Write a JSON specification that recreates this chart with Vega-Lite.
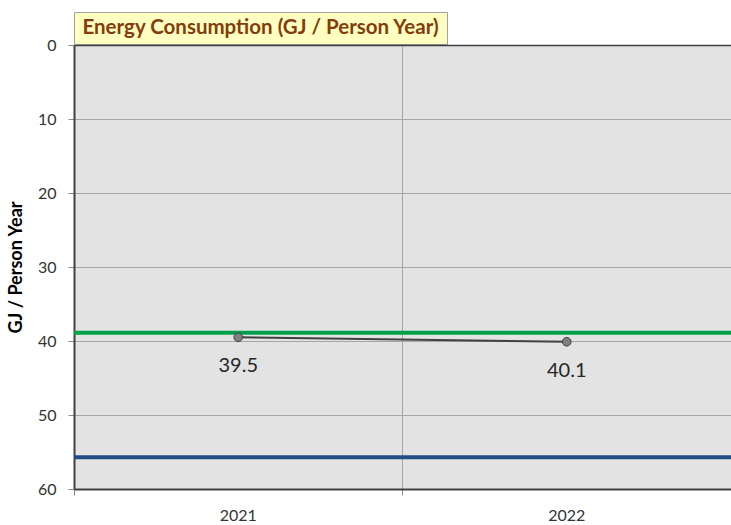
{
  "$schema": "https://vega.github.io/schema/vega-lite/v6.json",
  "autosize": {"type": "pad"},
  "padding": {"left": 7, "top": 11, "right": 0, "bottom": 5},
  "background": "#ffffff",
  "bounds": "flush",
  "spacing": 1,
  "config": {"font": "Lato", "view": {"stroke": null}},
  "datasets": {
    "series": [
      {"year": "2021", "gj": 39.5},
      {"year": "2022", "gj": 40.1}
    ],
    "targets": [
      {"target": "Green", "gj": 38.9},
      {"target": "Blue", "gj": 55.7}
    ],
    "heading": [
      {"t": "Energy Consumption (GJ / Person Year)"}
    ]
  },
  "vconcat": [
    {
      "width": 373,
      "height": 32,
      "view": {"fill": "#ffffc2", "stroke": "#a0a0a0", "strokeWidth": 1},
      "data": {"name": "heading"},
      "mark": {"type": "text", "fontWeight": "bold", "fontSize": 20.5, "color": "#843c0c"},
      "encoding": {"text": {"field": "t"}}
    },
    {
      "width": 657,
      "height": 444,
      "view": {"fill": "#e3e3e3", "stroke": null},
      "layer": [
        {
          "data": {"name": "targets"},
          "mark": {"type": "rule", "strokeWidth": 4},
          "encoding": {
            "y": {"field": "gj", "type": "quantitative"},
            "color": {"field": "target", "type": "nominal", "scale": {"domain": ["Green", "Blue"], "range": ["#00a04a", "#1f4e85"]}, "legend": null}
          }
        },
        {
          "data": {"name": "series"},
          "mark": {"type": "line", "color": "#404040", "strokeWidth": 2, "point": {"filled": true, "fill": "#7f7f7f", "stroke": "#404040", "strokeWidth": 1, "size": 75}},
          "encoding": {
            "x": {
              "field": "year", "type": "ordinal",
              "scale": {"type": "band", "paddingInner": 0, "paddingOuter": 0},
              "axis": {
                "title": null, "bandPosition": 0, "grid": true, "gridColor": "#a6a6a6",
                "labelFontSize": 16, "labelColor": "#333333", "labelPadding": 12, "labelAngle": 0,
                "tickSize": 6, "tickColor": "#888888", "domainColor": "#404040", "domainWidth": 2
              }
            },
            "y": {
              "field": "gj", "type": "quantitative",
              "scale": {"domain": [0, 60], "reverse": true, "nice": false, "zero": true},
              "axis": {
                "title": "GJ / Person Year", "titleFontSize": 18, "titleFontWeight": "bold", "titleColor": "#000000", "titlePadding": 12,
                "values": [0, 10, 20, 30, 40, 50, 60],
                "labelFontSize": 16, "labelColor": "#333333", "labelPadding": 12,
                "tickSize": 6, "tickColor": "#888888", "domainColor": "#404040", "domainWidth": 2,
                "grid": true,
                "gridColor": {"condition": {"test": "datum.value === 0", "value": "#404040"}, "value": "#a6a6a6"},
                "gridWidth": {"condition": {"test": "datum.value === 0", "value": 1.5}, "value": 1}
              }
            }
          }
        },
        {
          "data": {"name": "series"},
          "mark": {"type": "text", "dy": 29, "fontSize": 20, "color": "#262626"},
          "encoding": {
            "x": {"field": "year", "type": "ordinal"},
            "y": {"field": "gj", "type": "quantitative"},
            "text": {"field": "gj", "type": "quantitative", "format": ".1f"}
          }
        }
      ]
    }
  ]
}
